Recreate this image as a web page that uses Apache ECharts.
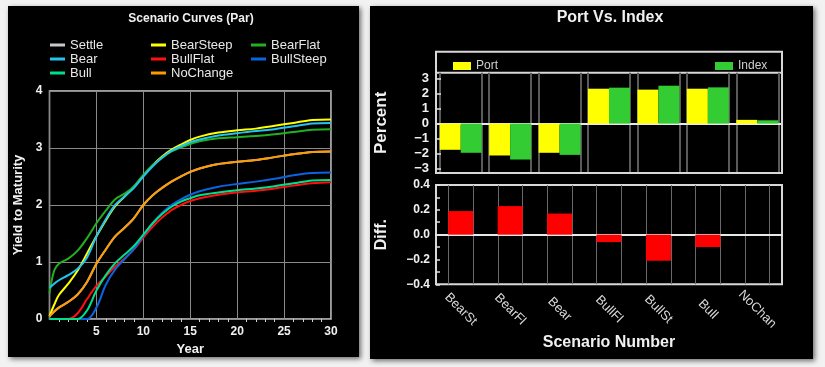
<!DOCTYPE html>
<html>
<head>
<meta charset="utf-8">
<script src="https://cdn.jsdelivr.net/npm/echarts@6/dist/echarts.min.js"></script>
<style>
html,body{margin:0;padding:0;background:#f2f2f2;}
#wrap{position:relative;width:825px;height:367px;overflow:hidden;background:#f2f2f2;}
.panel{position:absolute;background:#000;box-shadow:2px 2px 5px rgba(0,0,0,0.55);}
#chart{position:absolute;left:0;top:0;width:825px;height:367px;}
</style>
</head>
<body>
<div id="wrap">
  <div class="panel" style="left:8px;top:6px;width:351px;height:351px;"></div>
  <div class="panel" style="left:370px;top:6px;width:443px;height:353px;"></div>
  <div id="chart"></div>
</div>
<script>
// ---------- Left chart data: Scenario Curves (Par) ----------
const years      = [0, 0.5, 1, 2, 3, 4, 5, 6, 7, 8, 9, 10, 11, 12, 13, 14, 15, 16, 18, 20, 22, 24, 26, 28, 30];
const settle     = [0.05,0.13,0.20,0.30,0.43,0.65,0.97,1.22,1.45,1.60,1.77,2.00,2.17,2.30,2.41,2.50,2.58,2.64,2.72,2.76,2.79,2.84,2.89,2.93,2.94];
const bearSteep  = [0.05,0.25,0.42,0.62,0.85,1.15,1.45,1.73,1.98,2.15,2.32,2.52,2.70,2.85,2.97,3.06,3.14,3.20,3.27,3.31,3.34,3.39,3.44,3.49,3.50];
const bearFlat   = [0.45,0.85,0.97,1.06,1.20,1.42,1.68,1.90,2.10,2.20,2.33,2.53,2.70,2.83,2.94,3.01,3.07,3.12,3.17,3.19,3.21,3.24,3.28,3.32,3.33];
const bear       = [0.55,0.62,0.68,0.77,0.88,1.08,1.45,1.75,2.00,2.15,2.30,2.50,2.68,2.83,2.95,3.03,3.10,3.15,3.22,3.26,3.30,3.33,3.38,3.43,3.44];
const bullFlat   = [0,0,0,0,0.10,0.35,0.58,0.75,0.92,1.06,1.22,1.43,1.62,1.78,1.91,2.00,2.07,2.12,2.18,2.22,2.25,2.29,2.34,2.38,2.40];
const bullSteep  = [0,0,0,0,0,0,0.20,0.60,0.87,1.05,1.23,1.46,1.68,1.86,2.00,2.10,2.18,2.24,2.32,2.37,2.41,2.46,2.52,2.56,2.57];
const bull       = [0,0,0,0,0,0.15,0.50,0.77,0.98,1.13,1.28,1.48,1.68,1.84,1.97,2.06,2.12,2.17,2.22,2.26,2.29,2.33,2.38,2.43,2.44];
const noChange   = [0.05,0.13,0.20,0.30,0.43,0.65,0.97,1.22,1.45,1.60,1.77,2.00,2.17,2.30,2.41,2.50,2.58,2.64,2.72,2.76,2.79,2.84,2.89,2.93,2.94];
const curveNames = ['Settle','BearSteep','BearFlat','Bear','BullFlat','BullSteep','Bull','NoChange'];
const curveColors= ['#c8c8c8','#ffff00','#22b022','#22c4f0','#ff1010','#0a64e0','#00e08c','#ff9a00'];
const curveValues= [settle, bearSteep, bearFlat, bear, bullFlat, bullSteep, bull, noChange];

// ---------- Right chart data: Port Vs. Index ----------
const scenarios   = ['BearSt','BearFl','Bear','BullFl','BullSt','Bull','NoChan'];
const portValues  = [-1.75, -2.13, -1.95, 2.33, 2.27, 2.33, 0.25];
const indexValues = [-1.95, -2.40, -2.09, 2.40, 2.53, 2.42, 0.22];
const diffValues  = [0.19, 0.23, 0.17, -0.06, -0.21, -0.10, 0];
const pctTicks    = [-3, -2, -1, 0, 1, 2, 3];
const diffTicks   = [-0.4, -0.2, 0, 0.2, 0.4];
const diffMinor   = [-0.4, -0.3, -0.2, -0.1, 0, 0.1, 0.2, 0.3, 0.4];

const FONT = '"Liberation Sans", Arial, Helvetica, sans-serif';
const chart = echarts.init(document.getElementById('chart'), null, {renderer: 'canvas'});

const fmtMinus = v => (v < 0 ? '\u2212' : '') + Math.abs(v).toFixed(1);

const hiddenY = (gi) => ({type:'value', gridIndex: gi, show:false, min:0, max:1});
const lineAxis = (gi, maxV, color, w) => ({
  type:'value', gridIndex: gi, min:0, max:maxV, interval:1,
  axisLine:{show:false}, axisTick:{show:false}, axisLabel:{show:false},
  splitLine:{show:true, lineStyle:{color:color, width:w}}
});

const series = curveNames.map((n, i) => ({
  name: n, type: 'line', xAxisIndex: 0, yAxisIndex: 0,
  data: years.map((y, j) => [y, curveValues[i][j]]),
  smooth: 0.35, symbol: 'none', color: curveColors[i],
  lineStyle: {width: 2, color: curveColors[i]}, z: 3 + i
}));

series.push({
  name:'Port', type:'bar', xAxisIndex: 1, yAxisIndex: 1, data: portValues,
  itemStyle:{color:'#ffff00'}, barGap:'0%', barCategoryGap:'15%', z: 5
});
series.push({
  name:'Index', type:'bar', xAxisIndex: 1, yAxisIndex: 1, data: indexValues,
  itemStyle:{color:'#33cc33'}, barGap:'0%', barCategoryGap:'15%', z: 5
});
series.push({
  name:'Diff', type:'bar', xAxisIndex: 4, yAxisIndex: 4, data: diffValues,
  itemStyle:{color:'#ff0000'}, barWidth: 25, z: 5
});

const legendText = {color:'#e8e8e8', fontSize:13, fontFamily:FONT, lineHeight:13};
const option = {
  backgroundColor: 'transparent',
  animation: false,
  textStyle: {fontFamily: FONT},
  graphic: [
    {type:'text', style:{text:'Scenario Curves (Par)', x:191, y:19, fill:'#f0f0f0', font:'bold 12px ' + FONT, textAlign:'center', textVerticalAlign:'middle'}},
    {type:'text', style:{text:'Port Vs. Index', x:610, y:18, fill:'#f0f0f0', font:'bold 16px ' + FONT, textAlign:'center', textVerticalAlign:'middle'}},
    {type:'rect', shape:{x:436, y:51.7, width:346, height:121.3}, style:{fill:'none', stroke:'#d8d8d8', lineWidth:2}, z:10}
  ],
  legend: [
    {left: 50, top: 38.5, padding:0, orient:'vertical', itemWidth:15, itemHeight:3, itemGap:1, icon:'rect', textStyle:legendText, data:['Settle','Bear','Bull'], selectedMode:false},
    {left: 151, top: 38.5, padding:0, orient:'vertical', itemWidth:15, itemHeight:3, itemGap:1, icon:'rect', textStyle:legendText, data:['BearSteep','BullFlat','NoChange'], selectedMode:false},
    {left: 251, top: 38.5, padding:0, orient:'vertical', itemWidth:15, itemHeight:3, itemGap:1, icon:'rect', textStyle:legendText, data:['BearFlat','BullSteep'], selectedMode:false},
    {left: 453, top: 60, padding:0, itemWidth:18, itemHeight:8, icon:'rect', textStyle:{color:'#cfcfcf', fontSize:12, fontFamily:FONT}, data:['Port'], selectedMode:false},
    {left: 715, top: 60, padding:0, itemWidth:18, itemHeight:8, icon:'rect', textStyle:{color:'#cfcfcf', fontSize:12, fontFamily:FONT}, data:['Index'], selectedMode:false}
  ],
  grid: [
    {left:49.5, top:91, width:281.5, height:228, show:true, borderColor:'#cfcfcf', borderWidth:1.5, backgroundColor:'transparent'},
    {left:436, top:72.7, width:346, height:100.3, show:true, borderColor:'#d8d8d8', borderWidth:2, backgroundColor:'transparent'},
    {left:439.7, top:72.7, width:296.6, height:100.3},
    {left:481.7, top:72.7, width:296.6, height:100.3},
    {left:436, top:185, width:346, height:99.3, show:true, borderColor:'#d8d8d8', borderWidth:2, backgroundColor:'transparent'},
    {left:448.4, top:185, width:321.3, height:99.3},
    {left:436, top:185, width:346, height:99.3}
  ],
  xAxis: [
    { // 0 left curves
      type:'value', gridIndex:0, min:0, max:30, interval:5,
      name:'Year', nameLocation:'middle', nameGap:20,
      nameTextStyle:{color:'#f0f0f0', fontSize:13, fontWeight:'bold', fontFamily:FONT},
      axisLine:{show:false},
      axisTick:{show:false},
      minorTick:{show:true, splitNumber:5, length:3, lineStyle:{color:'#cfcfcf', width:1}},
      axisLabel:{color:'#f0f0f0', fontSize:12, fontWeight:'bold', margin:7, showMinLabel:false, fontFamily:FONT},
      splitLine:{show:true, lineStyle:{color:'#8a8a8a', width:1}}
    },
    { // 1 top bars
      type:'category', gridIndex:1, data:scenarios,
      axisLine:{show:true, onZero:true, lineStyle:{color:'#e8e8e8', width:2}},
      axisTick:{show:false}, axisLabel:{show:false}, splitLine:{show:false}
    },
    lineAxis(2, 6, '#5a5a5a', 2),
    lineAxis(3, 6, '#5a5a5a', 2),
    { // 4 lower bars (labels at bottom)
      type:'category', gridIndex:4, data:scenarios,
      name:'Scenario Number', nameLocation:'middle', nameGap:50,
      nameTextStyle:{color:'#f0f0f0', fontSize:16, fontWeight:'bold', fontFamily:FONT},
      axisLine:{show:false, onZero:false}, axisTick:{show:false},
      axisLabel:{color:'#d8d8d8', fontSize:13, rotate:-45, align:'center', verticalAlign:'middle', margin:25, interval:0, fontFamily:FONT},
      splitLine:{show:false}
    },
    lineAxis(5, 13, '#6a6a6a', 1),
    { // 6 zero line for lower plot
      type:'category', gridIndex:6, data:scenarios,
      axisLine:{show:true, onZero:true, lineStyle:{color:'#e8e8e8', width:2}},
      axisTick:{show:false}, axisLabel:{show:false}, splitLine:{show:false}
    }
  ],
  yAxis: [
    { // 0
      type:'value', gridIndex:0, min:0, max:4, interval:1,
      name:'Yield to Maturity', nameLocation:'middle', nameGap:25, nameRotate:90,
      nameTextStyle:{color:'#f0f0f0', fontSize:13, fontWeight:'bold', fontFamily:FONT},
      axisLine:{show:false}, axisTick:{show:false},
      axisLabel:{color:'#f0f0f0', fontSize:12, fontWeight:'bold', margin:7, fontFamily:FONT},
      splitLine:{show:true, lineStyle:{color:'#8a8a8a', width:1}}
    },
    { // 1
      type:'value', gridIndex:1, min:-3.3, max:3.4,
      name:'Percent', nameLocation:'middle', nameGap:46, nameRotate:90,
      nameTextStyle:{color:'#f0f0f0', fontSize:17, fontWeight:'bold', fontFamily:FONT},
      axisLine:{show:false},
      axisTick:{show:true, inside:true, length:5, customValues:pctTicks, lineStyle:{color:'#e0e0e0', width:1.5}},
      axisLabel:{color:'#f0f0f0', fontSize:13, fontWeight:'bold', margin:7, customValues:pctTicks, fontFamily:FONT,
                 formatter: v => (v < 0 ? '\u2212' : '') + Math.abs(v)},
      splitLine:{show:false}
    },
    hiddenY(2),
    hiddenY(3),
    { // 4
      type:'value', gridIndex:4, min:-0.4, max:0.4,
      name:'Diff.', nameLocation:'middle', nameGap:46, nameRotate:90,
      nameTextStyle:{color:'#f0f0f0', fontSize:16, fontWeight:'bold', fontFamily:FONT},
      axisLine:{show:false},
      axisTick:{show:true, inside:true, length:4, customValues:diffMinor, lineStyle:{color:'#e0e0e0', width:1.5}},
      axisLabel:{color:'#f0f0f0', fontSize:12, fontWeight:'bold', margin:6, customValues:diffTicks, fontFamily:FONT,
                 formatter: fmtMinus},
      splitLine:{show:false}
    },
    hiddenY(5),
    { // 6
      type:'value', gridIndex:6, min:-0.4, max:0.4, show:false
    }
  ],
  series: series
};
chart.setOption(option);
</script>
</body>
</html>
